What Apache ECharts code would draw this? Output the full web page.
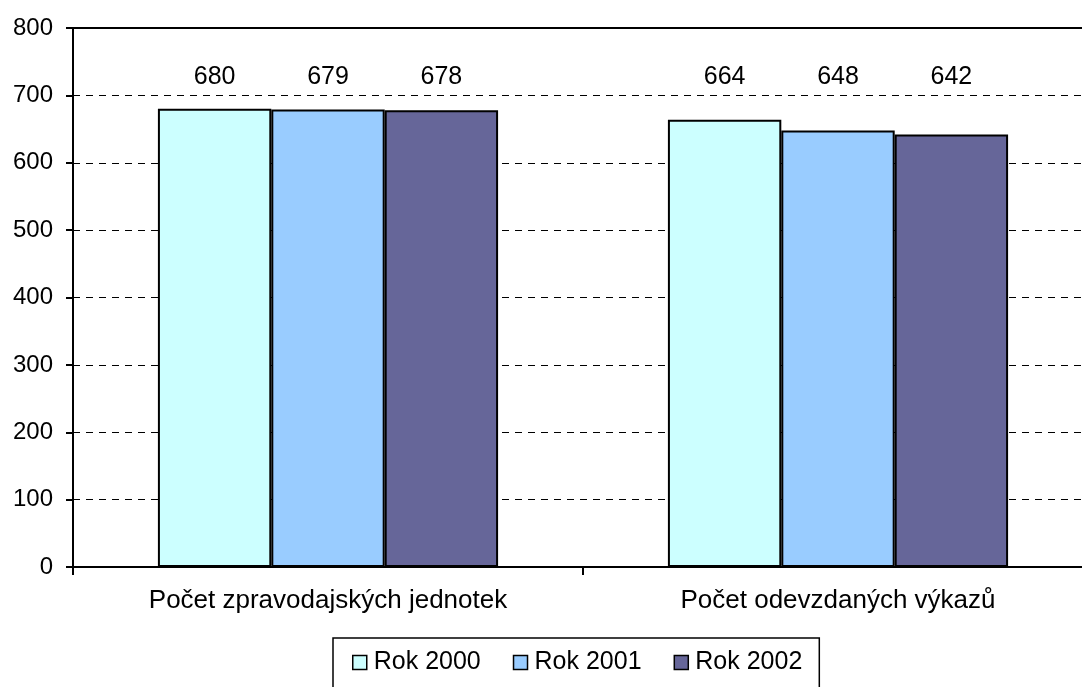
<!DOCTYPE html>
<html>
<head>
<meta charset="utf-8">
<script src="https://cdn.jsdelivr.net/npm/echarts@6/dist/echarts.min.js"></script>
<style>
    html, body { margin: 0; padding: 0; background: #fff; }
    #container { width: 1082px; height: 687px; }
</style>
</head>
<body>
<div id="container"></div>
<script>
// data
var categories = ['Počet zpravodajských jednotek', 'Počet odevzdaných výkazů'];
var rok2000 = [680, 664];
var rok2001 = [679, 648];
var rok2002 = [678, 642];
var yTicks = [0, 100, 200, 300, 400, 500, 600, 700, 800];

var font = '"Liberation Sans", Arial, sans-serif';
var myChart = echarts.init(document.getElementById('container'));

function barSeries(name, color, data) {
    return {
        name: name,
        type: 'bar',
        data: data,
        barGap: '0%',
        barCategoryGap: '33.3%',
        itemStyle: {
            color: color,
            borderColor: '#000',
            borderWidth: 2
        },
        label: {
            show: true,
            position: 'top',
            distance: 5,
            color: '#000',
            fontSize: 25,
            fontFamily: font
        }
    };
}

var option = {
    animation: false,
    backgroundColor: '#fff',
    grid: {
        left: 73,
        top: 28,
        width: 1020,   // plot runs past the right edge of the picture
        bottom: 120,
        outerBoundsMode: 'none',
        containLabel: false
    },
    legend: {
        left: 333,
        top: 638,
        orient: 'horizontal',
        padding: [12, 17, 40, 19],
        borderColor: '#000',
        borderWidth: 1.5,
        itemWidth: 14,
        itemHeight: 14,
        itemGap: 32,
        icon: 'rect',
        itemStyle: { borderColor: '#000', borderWidth: 1.5 },
        textStyle: { fontSize: 25, fontFamily: font, color: '#000', padding: [0, 0, 0, 2] },
        data: ['Rok 2000', 'Rok 2001', 'Rok 2002']
    },
    xAxis: [
        {
            type: 'category',
            data: categories,
            axisLine: { lineStyle: { color: '#000', width: 2 } },
            axisTick: { show: true, length: 8, lineStyle: { color: '#000', width: 2 } },
            axisLabel: { color: '#000', fontSize: 26, fontFamily: font, margin: 21 },
            splitLine: { show: false }
        },
        {
            type: 'category',
            position: 'top',
            data: categories,
            axisLine: { show: true, lineStyle: { color: '#000', width: 2 } },
            axisTick: { show: false },
            axisLabel: { show: false }
        }
    ],
    yAxis: {
        type: 'value',
        min: yTicks[0],
        max: yTicks[yTicks.length - 1],
        interval: 100,
        axisLine: { show: true, lineStyle: { color: '#000', width: 2 } },
        axisTick: { show: true, length: 7, lineStyle: { color: '#000', width: 2 } },
        axisLabel: { color: '#000', fontSize: 24, fontFamily: font, margin: 20 },
        splitLine: { show: true, lineStyle: { color: '#000', width: 1, type: [7, 6] } }
    },
    series: [
        barSeries('Rok 2000', '#CCFFFF', rok2000),
        barSeries('Rok 2001', '#99CCFF', rok2001),
        barSeries('Rok 2002', '#666699', rok2002)
    ]
};
myChart.setOption(option);

// labels sit at one common height above the bars, like in the original
var labelBottom = 90;
function valueToY(v) {
    var y = myChart.convertToPixel({ yAxisIndex: 0 }, v);
    if (!isFinite(y)) {
        // fall back to the grid's own extent
        y = 567 - v / yTicks[yTicks.length - 1] * (567 - 28);
    }
    return y;
}
var all = [rok2000, rok2001, rok2002];
var upd = [];
for (var s = 0; s < all.length; s++) {
    var items = [];
    for (var i = 0; i < all[s].length; i++) {
        var d = Math.max(2, valueToY(all[s][i]) - labelBottom);
        items.push({ value: all[s][i], label: { show: true, distance: d } });
    }
    upd.push({ data: items });
}
myChart.setOption({ series: upd });
</script>
</body>
</html>
